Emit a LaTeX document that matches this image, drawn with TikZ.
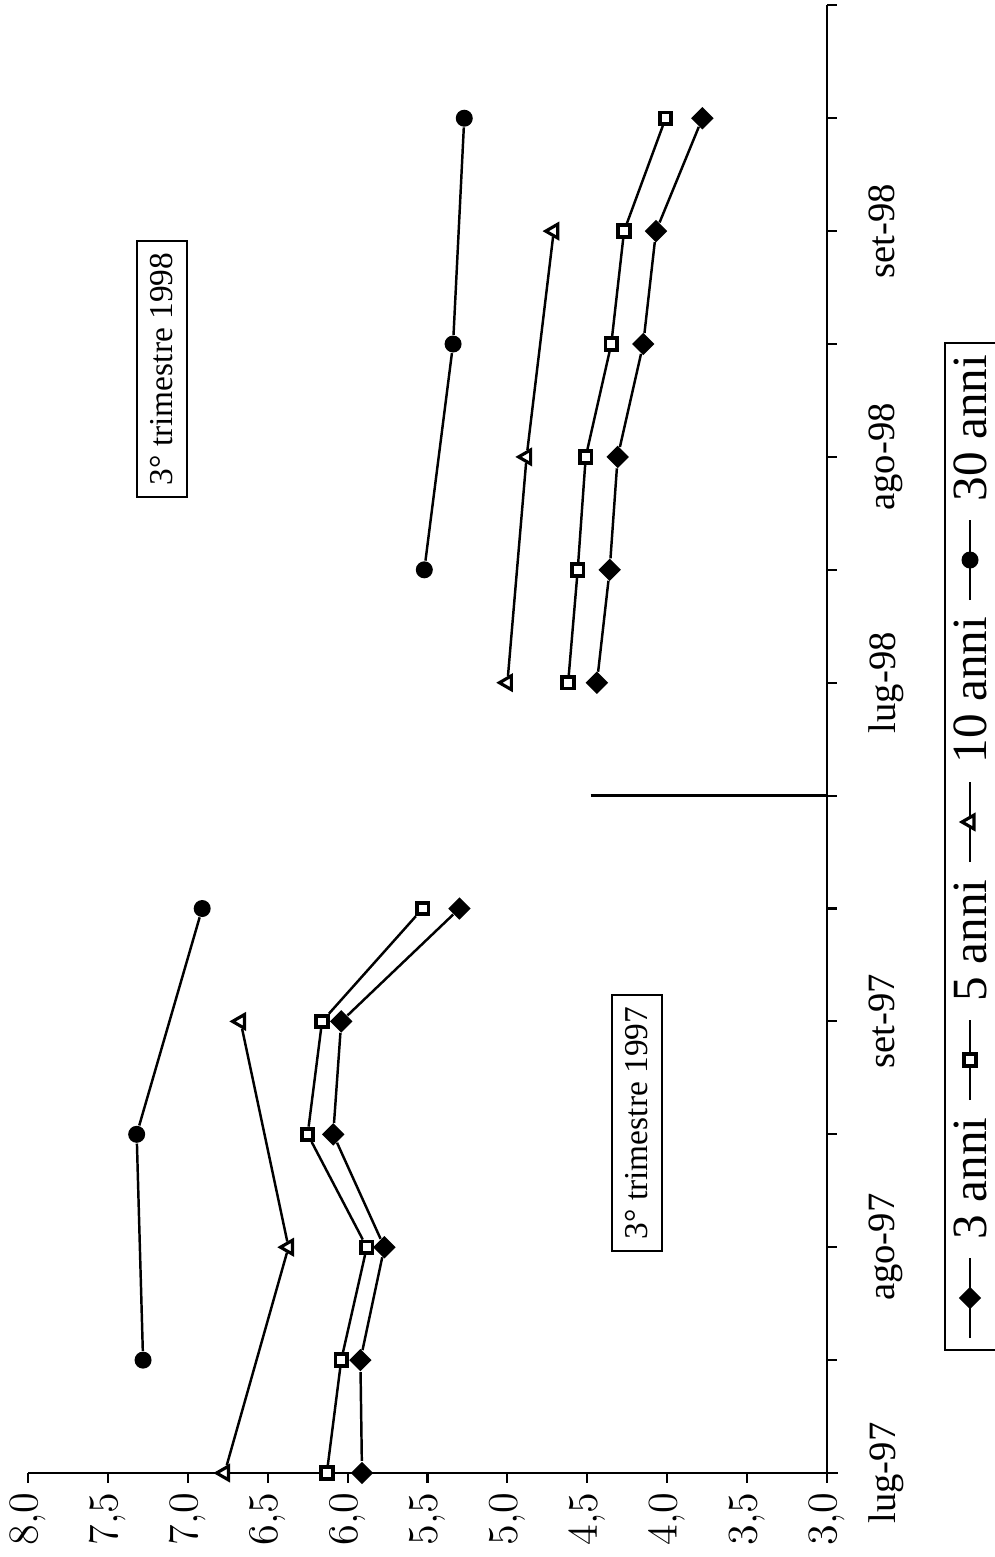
\documentclass[tikz,border=0pt]{standalone}
\usepackage{fontspec}
\setmainfont{Liberation Serif}
\usetikzlibrary{shapes.geometric}
\newcommand\valfont{\fontsize{13}{15}\selectfont}
\newcommand\catfont{\fontsize{11}{13}\selectfont}
\newcommand\legfont{\fontsize{14}{16}\selectfont}
\newcommand\boxfont{\fontsize{9.5}{11}\selectfont}

\begin{document}
\begin{tikzpicture}[x=0.1mm, y=-0.1mm,
  dia/.style={diamond, fill=black, inner sep=0pt, minimum size=2.3mm},
  sq/.style={rectangle, draw=black, fill=white, line width=1.1pt, inner sep=0pt, minimum size=1.15mm},
  tri/.style={regular polygon, regular polygon sides=3, shape border rotate=90, draw=black, fill=white, line width=0.9pt, inner sep=0pt, minimum size=1.6mm},
  dot/.style={circle, fill=black, inner sep=0pt, minimum size=1.7mm},
  serie/.style={line width=0.7pt},
  axis/.style={line width=0.6pt},
  vlab/.style={rotate=90, anchor=east, inner sep=0pt, font=\valfont},
  clab/.style={rotate=90, anchor=north, inner sep=0pt, font=\catfont},
  quarter/.style={draw, rotate=90, line width=0.6pt, inner xsep=3.5pt, inner ysep=4pt, font=\boxfont},
  ltext/.style={rotate=90, anchor=west, inner sep=0pt, font=\legfont}]
\useasboundingbox (0,0) rectangle (995,1557);

\draw[axis] (28,1473) -- (838,1473);
\draw[axis] (827,5) -- (827,1478);
\foreach \i in {0,...,10}{
  \draw[axis] ({28+\i*79.9},1473) -- ++(0,10);
  \pgfmathsetmacro\val{8-0.5*\i}
  \node[vlab] (val\i) at ({28+\i*79.9},1492) {\pgfmathprintnumber[fixed, fixed zerofill, precision=1, use comma]{\val}};
}
\foreach \k in {0,...,13}
  \draw[axis] (827,{1473-112.9*\k}) -- ++(10,0);
\foreach \k/\t in {0/lug-97, 2/ago-97, 4/set-97, 7/lug-98, 9/ago-98, 11/set-98}
  \node[clab] (cat\k) at (868,{1473-112.9*\k}) {\t};

\begin{scope}[shift={(1306.4,1473)}, x=-15.98mm, y=11.29mm]
\foreach \v [count=\k from 0] in {5.91,5.92,5.77,6.09,6.04,5.30}
  \node[dia] (a\k) at (\v,\k) {};
\foreach \v [count=\k from 7] in {4.44,4.36,4.31,4.15,4.07,3.78}
  \node[dia] (a\k) at (\v,\k) {};
\foreach \v [count=\k from 0] in {6.13,6.04,5.88,6.25,6.16,5.53}
  \node[sq] (b\k) at (\v,\k) {};
\foreach \v [count=\k from 7] in {4.62,4.56,4.51,4.35,4.27,4.01}
  \node[sq] (b\k) at (\v,\k) {};
\foreach \k/\v in {0/6.77, 2/6.37, 4/6.67, 7/5.00, 9/4.88, 11/4.71}
  \node[tri] (c\k) at (\v,\k) {};
\foreach \k/\v in {1/7.28, 3/7.32, 5/6.91, 8/5.52, 10/5.34, 12/5.27}
  \node[dot] (d\k) at (\v,\k) {};
\coordinate (cut1) at (4.48,6);
\coordinate (cut2) at (3,6);
\end{scope}

\draw[serie] (a0) -- (a1) -- (a2) -- (a3) -- (a4) -- (a5);
\draw[serie] (a7) -- (a8) -- (a9) -- (a10) -- (a11) -- (a12);
\draw[serie] (b0) -- (b1) -- (b2) -- (b3) -- (b4) -- (b5);
\draw[serie] (b7) -- (b8) -- (b9) -- (b10) -- (b11) -- (b12);
\draw[serie] (c0) -- (c2) -- (c4);
\draw[serie] (c7) -- (c9) -- (c11);
\draw[serie] (d1) -- (d3) -- (d5);
\draw[serie] (d8) -- (d10) -- (d12);
\draw[serie] (cut1) -- (cut2);

\node[quarter] (q97) at (637,1123) {3° trimestre 1997};
\node[quarter] (q98) at (162,369) {3° trimestre 1998};

\draw[axis] (1000,343) -- (945,343) -- (945,1350) -- (1000,1350);
\draw[serie] (970,1338) -- (970,1258);
\node[dia] (l3) at (970,1298) {};
\node[ltext] (t3) at (970,1240) {3 anni};
\draw[serie] (970,1100) -- (970,1020);
\node[sq] (l5) at (970,1060) {};
\node[ltext] (t5) at (970,1002) {5 anni};
\draw[serie] (970,862) -- (970,782);
\node[tri] (l10) at (970,822) {};
\node[ltext] (t10) at (970,764) {10 anni};
\draw[serie] (970,600) -- (970,520);
\node[dot] (l30) at (970,560) {};
\node[ltext] (t30) at (970,502) {30 anni};
\end{tikzpicture}
\end{document}
